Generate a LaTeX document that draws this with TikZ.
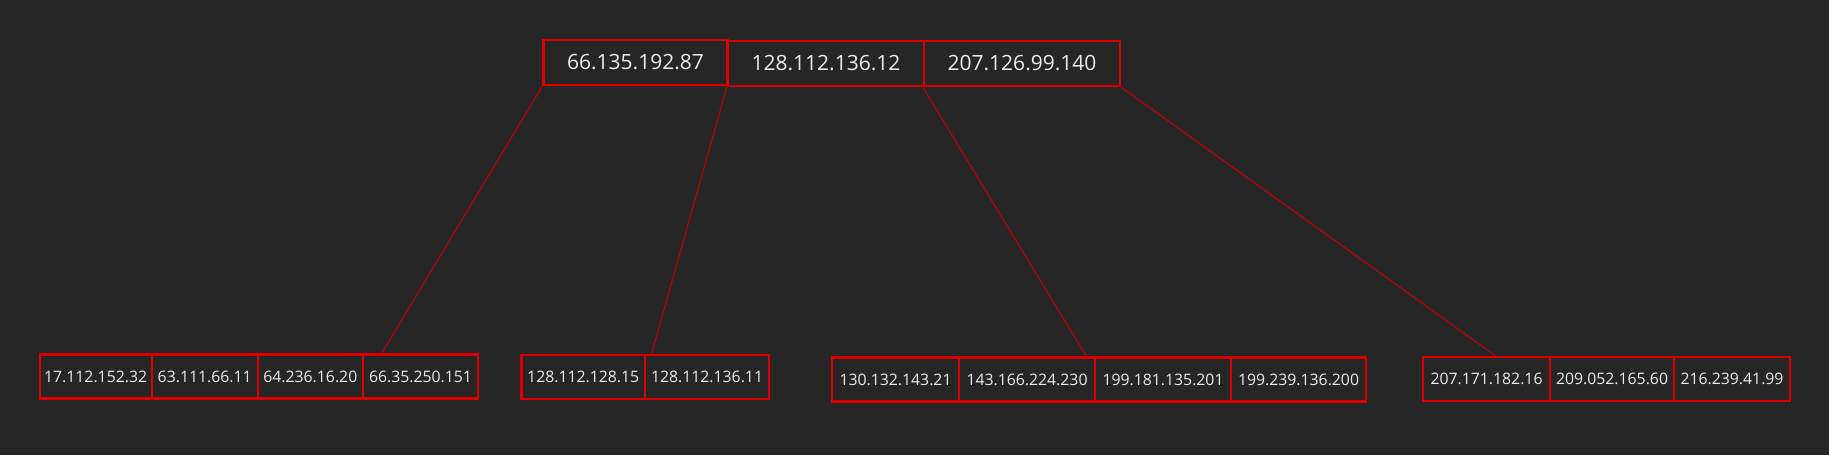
\documentclass[tikz,border=0pt]{standalone}
\usepackage{fontspec}
\setmainfont{Open Sans}
\usetikzlibrary{calc}
\definecolor{bgcol}{RGB}{38,38,38}
\definecolor{boxred}{RGB}{222,0,0}
\definecolor{linkred}{RGB}{190,0,0}
\definecolor{txtcol}{RGB}{235,235,235}

\begin{document}
\begin{tikzpicture}[x=0.5pt,y=-0.5pt,
    rootkey/.style={rectangle,draw=boxred,line width=1.2pt,inner sep=0pt,
        minimum height=22.5pt,text=txtcol,font=\fontsize{10.5}{12}\selectfont},
    leafkey/.style={rectangle,draw=boxred,line width=1.1pt,inner sep=0pt,
        minimum height=22pt,text=txtcol,font=\fontsize{7.9}{9}\selectfont},
    link/.style={draw=linkred,line width=0.55pt}]
                    \fill[bgcol] (0,0) rectangle (1829,455);
                    \useasboundingbox (0,0) rectangle (1829,455);
                    % Root
                    \draw (635.5,62.5) node[rootkey,minimum width=92pt] (T1) {66.135.192.87};
                    \draw (826,63.5) node[rootkey,minimum width=98pt] (T2) {128.112.136.12};
                    \draw (1022,63.5) node[rootkey,minimum width=98pt] (T3) {207.126.99.140};
                    % Leaf 1
                    \draw (95.6,376.5) node[leafkey,minimum width=56pt] (A1) {17.112.152.32};
                    \draw (204.7,376.5) node[leafkey,minimum width=53.1pt] (A2) {63.111.66.11};
                    \draw (310.3,376.5) node[leafkey,minimum width=52.5pt] (A3) {64.236.16.20};
                    \draw (420.5,376.5) node[leafkey,minimum width=57.8pt] (A4) {66.35.250.151};
                    % Leaf 2
                    \draw (583.2,377) node[leafkey,minimum width=61.8pt] (B1) {128.112.128.15};
                    \draw (707,377) node[leafkey,minimum width=62pt] (B2) {128.112.136.11};
                    % Leaf 3
                    \draw (895.5,379.5) node[leafkey,minimum width=63.5pt] (C1) {130.132.143.21};
                    \draw (1027,379.5) node[leafkey,minimum width=68pt] (C2) {143.166.224.230};
                    \draw (1163,379.5) node[leafkey,minimum width=68pt] (C3) {199.181.135.201};
                    \draw (1298.5,379.5) node[leafkey,minimum width=67.5pt] (C4) {199.239.136.200};
                    % Leaf 4
                    \draw (1486.5,379) node[leafkey,minimum width=63.5pt] (D1) {207.171.182.16};
                    \draw (1612,379) node[leafkey,minimum width=62pt] (D2) {209.052.165.60};
                    \draw (1732,379) node[leafkey,minimum width=58pt] (D3) {216.239.41.99};
                    % Links
                    \draw [link] (T1.south west)--($(A4.north west)!0.17!(A4.north east)$);
                    \draw [link] (T2.south west)--($(B2.north west)!0.06!(B2.north east)$);
                    \draw [link] (T3.south west)--($(C2.north west)!0.93!(C2.north east)$);
                    \draw [link] (T3.south east)--($(D1.north west)!0.57!(D1.north east)$);
                \end{tikzpicture}
\end{document}
